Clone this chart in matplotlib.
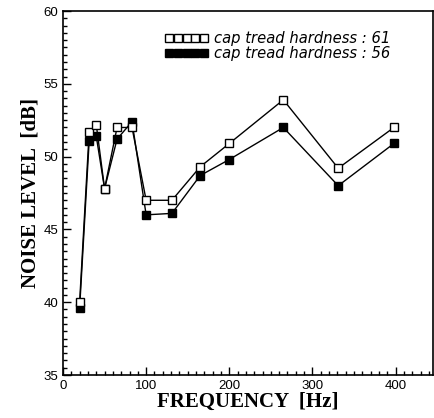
import matplotlib
matplotlib.use("Agg")
import matplotlib.pyplot as plt
from matplotlib.ticker import MultipleLocator
from matplotlib.lines import Line2D

freq = [20, 31.5, 40, 50, 65, 83, 100, 131, 165, 200, 265, 331, 398]
hard61 = [40.0, 51.7, 52.2, 47.8, 52.0, 52.0, 47.0, 47.0, 49.3, 50.9, 53.9, 49.2, 52.0]
hard56 = [39.6, 51.1, 51.4, 47.8, 51.2, 52.4, 46.0, 46.1, 48.7, 49.8, 52.0, 48.0, 50.9]
labels = ["cap tread hardness : 61", "cap tread hardness : 56"]

fig = plt.figure(figsize=(4.35, 4.18), dpi=100)
ax = fig.add_axes([63/435, (418-375)/418, 370/435, 364/418])

ax.plot(freq, hard61, color="black", lw=1.0, marker="s", ms=5.5,
        mfc="white", mec="black", mew=1.0, zorder=3)
ax.plot(freq, hard56, color="black", lw=1.0, marker="s", ms=5.5,
        mfc="black", mec="black", zorder=2)

ax.set_xlim(0, 445)
ax.set_ylim(35, 60)
ax.xaxis.set_major_locator(MultipleLocator(100))
ax.xaxis.set_minor_locator(MultipleLocator(10))
ax.yaxis.set_major_locator(MultipleLocator(5))
ax.yaxis.set_minor_locator(MultipleLocator(0.5))
ax.tick_params(which="both", direction="in", top=False, right=False,
               labelsize=9.5, width=1.0)
ax.tick_params(which="major", length=6)
ax.tick_params(which="minor", length=3)
for lab in ax.get_xticklabels() + ax.get_yticklabels():
    lab.set_family("Liberation Sans")
for s in ax.spines.values():
    s.set_linewidth(1.2)

ax.set_xlabel("FREQUENCY  [Hz]", family="Liberation Serif", fontweight="bold",
              fontsize=15, labelpad=0)
ax.set_ylabel("NOISE LEVEL  [dB]", family="Liberation Serif", fontweight="bold",
              fontsize=15, labelpad=2)

h1 = Line2D([0], [0], color="black", lw=1, marker="s", ms=5.5, mfc="white", mec="black")
h2 = Line2D([0], [0], color="black", lw=1, marker="s", ms=5.5, mfc="black", mec="black")
leg = ax.legend([h1, h2], labels, loc="upper right", bbox_to_anchor=(0.912, 0.972),
                frameon=False, numpoints=5, handlelength=3.0, handletextpad=0.35,
                labelspacing=0.0, borderaxespad=0.3,
                prop={"family": "DejaVu Sans", "style": "italic", "size": 10.6})

fig.savefig("out.png", dpi=100)
